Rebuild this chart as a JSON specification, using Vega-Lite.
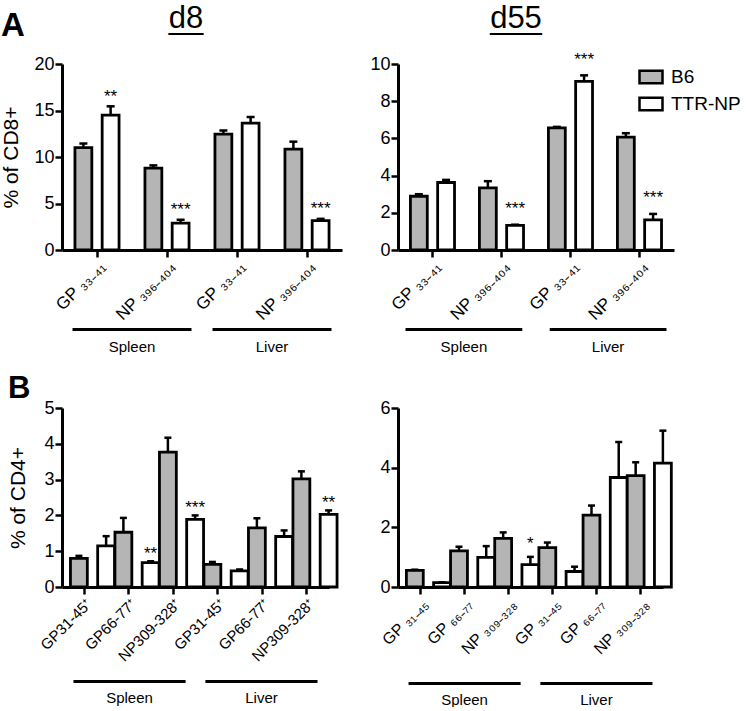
{
  "$schema": "https://vega.github.io/schema/vega-lite/v6.json",
  "padding": {"left": 0, "top": 2, "right": 0, "bottom": 0},
  "background": "white",
  "config": {
    "font": "Liberation Sans",
    "view": {"stroke": null},
    "axis": {"grid": false, "domainColor": "black", "domainWidth": 3, "tickColor": "black", "tickWidth": 2.5, "tickSize": 7, "labelColor": "black", "labelFont": "Liberation Sans", "labelFontSize": 18, "labelPadding": 1, "labelOverlap": false, "titleColor": "black", "titleFont": "Liberation Sans", "titleFontSize": 21, "titleFontWeight": "normal", "titlePadding": 12},
    "title": {"color": "black", "font": "Liberation Sans", "subtitleColor": "black", "subtitleFont": "Liberation Sans"}
  },
  "datasets": {
    "d8": [
      {"key": "Spleen|GP ₃₃₋₄₁", "geno": "B6", "mean": 11.0, "upper": 11.45, "sig": ""},
      {"key": "Spleen|GP ₃₃₋₄₁", "geno": "TTR-NP", "mean": 14.5, "upper": 15.45, "sig": "**"},
      {"key": "Spleen|NP ₃₉₆₋₄₀₄", "geno": "B6", "mean": 8.8, "upper": 9.1, "sig": ""},
      {"key": "Spleen|NP ₃₉₆₋₄₀₄", "geno": "TTR-NP", "mean": 2.9, "upper": 3.25, "sig": "***"},
      {"key": "Liver|GP ₃₃₋₄₁", "geno": "B6", "mean": 12.45, "upper": 12.85, "sig": ""},
      {"key": "Liver|GP ₃₃₋₄₁", "geno": "TTR-NP", "mean": 13.65, "upper": 14.3, "sig": ""},
      {"key": "Liver|NP ₃₉₆₋₄₀₄", "geno": "B6", "mean": 10.85, "upper": 11.65, "sig": ""},
      {"key": "Liver|NP ₃₉₆₋₄₀₄", "geno": "TTR-NP", "mean": 3.15, "upper": 3.35, "sig": "***"}
    ],
    "d55": [
      {"key": "Spleen|GP ₃₃₋₄₁", "geno": "B6", "mean": 2.89, "upper": 3.0, "sig": ""},
      {"key": "Spleen|GP ₃₃₋₄₁", "geno": "TTR-NP", "mean": 3.63, "upper": 3.77, "sig": ""},
      {"key": "Spleen|NP ₃₉₆₋₄₀₄", "geno": "B6", "mean": 3.34, "upper": 3.7, "sig": ""},
      {"key": "Spleen|NP ₃₉₆₋₄₀₄", "geno": "TTR-NP", "mean": 1.32, "upper": 1.36, "sig": "***"},
      {"key": "Liver|GP ₃₃₋₄₁", "geno": "B6", "mean": 6.57, "upper": 6.62, "sig": ""},
      {"key": "Liver|GP ₃₃₋₄₁", "geno": "TTR-NP", "mean": 9.07, "upper": 9.39, "sig": "***"},
      {"key": "Liver|NP ₃₉₆₋₄₀₄", "geno": "B6", "mean": 6.07, "upper": 6.28, "sig": ""},
      {"key": "Liver|NP ₃₉₆₋₄₀₄", "geno": "TTR-NP", "mean": 1.62, "upper": 1.94, "sig": "***"}
    ],
    "cd4d8": [
      {"key": "Spleen|GP31-45⁺", "geno": "B6", "mean": 0.8, "upper": 0.87, "sig": ""},
      {"key": "Spleen|GP31-45⁺", "geno": "TTR-NP", "mean": 1.15, "upper": 1.42, "sig": ""},
      {"key": "Spleen|GP66-77⁺", "geno": "B6", "mean": 1.53, "upper": 1.93, "sig": ""},
      {"key": "Spleen|GP66-77⁺", "geno": "TTR-NP", "mean": 0.68, "upper": 0.72, "sig": "**"},
      {"key": "Spleen|NP309-328⁺", "geno": "B6", "mean": 3.77, "upper": 4.17, "sig": ""},
      {"key": "Spleen|NP309-328⁺", "geno": "TTR-NP", "mean": 1.89, "upper": 2.0, "sig": "***"},
      {"key": "Liver|GP31-45⁺", "geno": "B6", "mean": 0.63, "upper": 0.7, "sig": ""},
      {"key": "Liver|GP31-45⁺", "geno": "TTR-NP", "mean": 0.45, "upper": 0.49, "sig": ""},
      {"key": "Liver|GP66-77⁺", "geno": "B6", "mean": 1.65, "upper": 1.92, "sig": ""},
      {"key": "Liver|GP66-77⁺", "geno": "TTR-NP", "mean": 1.41, "upper": 1.58, "sig": ""},
      {"key": "Liver|NP309-328⁺", "geno": "B6", "mean": 3.02, "upper": 3.23, "sig": ""},
      {"key": "Liver|NP309-328⁺", "geno": "TTR-NP", "mean": 2.03, "upper": 2.14, "sig": "**"}
    ],
    "cd4d55": [
      {"key": "Spleen|GP ₃₁₋₄₅", "geno": "B6", "mean": 0.56, "upper": 0.58, "sig": ""},
      {"key": "Spleen|GP ₃₁₋₄₅", "geno": "TTR-NP", "mean": 0.15, "upper": 0.16, "sig": ""},
      {"key": "Spleen|GP ₆₆₋₇₇", "geno": "B6", "mean": 1.21, "upper": 1.35, "sig": ""},
      {"key": "Spleen|GP ₆₆₋₇₇", "geno": "TTR-NP", "mean": 0.99, "upper": 1.37, "sig": ""},
      {"key": "Spleen|NP ₃₀₉₋₃₂₈", "geno": "B6", "mean": 1.63, "upper": 1.83, "sig": ""},
      {"key": "Spleen|NP ₃₀₉₋₃₂₈", "geno": "TTR-NP", "mean": 0.75, "upper": 1.01, "sig": "*"},
      {"key": "Liver|GP ₃₁₋₄₅", "geno": "B6", "mean": 1.32, "upper": 1.49, "sig": ""},
      {"key": "Liver|GP ₃₁₋₄₅", "geno": "TTR-NP", "mean": 0.52, "upper": 0.68, "sig": ""},
      {"key": "Liver|GP ₆₆₋₇₇", "geno": "B6", "mean": 2.41, "upper": 2.73, "sig": ""},
      {"key": "Liver|GP ₆₆₋₇₇", "geno": "TTR-NP", "mean": 3.67, "upper": 4.86, "sig": ""},
      {"key": "Liver|NP ₃₀₉₋₃₂₈", "geno": "B6", "mean": 3.73, "upper": 4.18, "sig": ""},
      {"key": "Liver|NP ₃₀₉₋₃₂₈", "geno": "TTR-NP", "mean": 4.15, "upper": 5.24, "sig": ""}
    ],
    "tissues": [{"tissue": "Spleen"}, {"tissue": "Liver"}]
  },
  "resolve": {"legend": {"fill": "independent"}},
  "spacing": 19,
  "vconcat": [
    {
      "title": {"text": "A", "anchor": "start", "frame": "bounds", "fontSize": 33, "fontWeight": "bold", "offset": -40},
      "resolve": {"legend": {"fill": "independent"}},
      "spacing": 27,
      "hconcat": [
        {
          "resolve": {"legend": {"fill": "independent"}},
          "spacing": 5,
          "vconcat": [
            {
              "title": {"text": "d8", "subtitle": "__", "fontSize": 31, "subtitleFontSize": 31, "subtitlePadding": -30, "fontWeight": "normal", "dx": -16, "anchor": "middle", "frame": "group", "offset": 19},
              "width": 280, "height": 186,
              "data": {"name": "d8"},
              "encoding": {
                "x": {"field": "key", "type": "nominal", "sort": null, "scale": {"paddingInner": 0.37, "paddingOuter": 0.185}, "axis": {"title": null, "labelAngle": -45, "labelExpr": "split(datum.label, '|')[1]", "labelFontSize": 17, "labelPadding": 1}},
                "xOffset": {"field": "geno", "type": "nominal", "sort": ["B6", "TTR-NP"], "scale": {"paddingInner": 0.38}}
              },
              "layer": [
                {"mark": {"type": "bar", "stroke": "black", "strokeWidth": 2.8}, "encoding": {"y": {"field": "mean", "type": "quantitative", "scale": {"domain": [0, 20], "nice": false}, "axis": {"title": "% of CD8+", "values": [0, 5, 10, 15, 20], "labelOverlap": false}}, "fill": {"field": "geno", "type": "nominal", "scale": {"domain": ["B6", "TTR-NP"], "range": ["#b5b5b5", "#ffffff"]}, "legend": null}}},
                {"mark": {"type": "rule", "strokeWidth": 2.5, "color": "black"}, "encoding": {"y": {"field": "mean", "type": "quantitative", "axis": {"title": "% of CD8+", "values": [0, 5, 10, 15, 20], "labelOverlap": false}}, "y2": {"field": "upper"}}},
                {"mark": {"type": "tick", "size": 8, "thickness": 2.5, "color": "black", "opacity": 1}, "encoding": {"y": {"field": "upper", "type": "quantitative", "axis": {"title": "% of CD8+", "values": [0, 5, 10, 15, 20], "labelOverlap": false}}}},
                {"mark": {"type": "text", "fontSize": 17, "dy": -4.6, "baseline": "alphabetic", "color": "black"}, "encoding": {"y": {"field": "upper", "type": "quantitative", "axis": {"title": "% of CD8+", "values": [0, 5, 10, 15, 20], "labelOverlap": false}}, "text": {"field": "sig"}}}
              ]
            },
            {
              "width": 280, "height": 3,
              "data": {"name": "tissues"},
              "mark": {"type": "bar", "color": "black"},
              "encoding": {"x": {"field": "tissue", "type": "nominal", "sort": null, "scale": {"paddingInner": 0.15, "paddingOuter": 0.075}, "axis": {"title": null, "domain": false, "ticks": false, "labelAngle": 0, "labelFontSize": 15, "labelPadding": 8}}}
            }
          ]
        },
        {
          "resolve": {"legend": {"fill": "independent"}},
          "spacing": 5,
          "vconcat": [
            {
              "title": {"text": "d55", "subtitle": "___", "fontSize": 31, "subtitleFontSize": 31, "subtitlePadding": -30, "fontWeight": "normal", "dx": -20, "anchor": "middle", "frame": "group", "offset": 15},
              "width": 276, "height": 186,
              "data": {"name": "d55"},
              "encoding": {
                "x": {"field": "key", "type": "nominal", "sort": null, "scale": {"paddingInner": 0.36, "paddingOuter": 0.18}, "axis": {"title": null, "labelAngle": -45, "labelExpr": "split(datum.label, '|')[1]", "labelFontSize": 17, "labelPadding": 1}},
                "xOffset": {"field": "geno", "type": "nominal", "sort": ["B6", "TTR-NP"], "scale": {"paddingInner": 0.36}}
              },
              "layer": [
                {"mark": {"type": "bar", "stroke": "black", "strokeWidth": 2.8}, "encoding": {"y": {"field": "mean", "type": "quantitative", "scale": {"domain": [0, 10], "nice": false}, "axis": {"title": null, "values": [0, 2, 4, 6, 8, 10], "labelOverlap": false}}, "fill": {"field": "geno", "type": "nominal", "scale": {"domain": ["B6", "TTR-NP"], "range": ["#b5b5b5", "#ffffff"]}, "legend": {"title": null, "orient": "right", "offset": -36, "padding": 0, "symbolType": "M-1,-0.55H1V0.55H-1Z", "symbolSize": 529, "symbolStrokeColor": "black", "symbolStrokeWidth": 2.5, "labelFontSize": 19, "labelColor": "black", "labelOffset": 7, "rowPadding": 2}}}},
                {"mark": {"type": "rule", "strokeWidth": 2.5, "color": "black"}, "encoding": {"y": {"field": "mean", "type": "quantitative", "axis": {"title": null, "values": [0, 2, 4, 6, 8, 10], "labelOverlap": false}}, "y2": {"field": "upper"}}},
                {"mark": {"type": "tick", "size": 8, "thickness": 2.5, "color": "black", "opacity": 1}, "encoding": {"y": {"field": "upper", "type": "quantitative", "axis": {"title": null, "values": [0, 2, 4, 6, 8, 10], "labelOverlap": false}}}},
                {"mark": {"type": "text", "fontSize": 17, "dy": -10.6, "baseline": "alphabetic", "color": "black"}, "encoding": {"y": {"field": "upper", "type": "quantitative", "axis": {"title": null, "values": [0, 2, 4, 6, 8, 10], "labelOverlap": false}}, "text": {"field": "sig"}}}
              ]
            },
            {
              "width": 276, "height": 3,
              "data": {"name": "tissues"},
              "mark": {"type": "bar", "color": "black"},
              "encoding": {"x": {"field": "tissue", "type": "nominal", "sort": null, "scale": {"paddingInner": 0.19, "paddingOuter": 0.052}, "axis": {"title": null, "domain": false, "ticks": false, "labelAngle": 0, "labelFontSize": 15, "labelPadding": 8}}}
            }
          ]
        }
      ]
    },
    {
      "title": {"text": "B", "anchor": "start", "frame": "bounds", "fontSize": 31, "fontWeight": "bold", "offset": -6},
      "resolve": {"legend": {"fill": "independent"}},
      "spacing": 39,
      "hconcat": [
        {
          "resolve": {"legend": {"fill": "independent"}},
          "spacing": 16,
          "vconcat": [
            {
              "width": 267, "height": 179,
              "data": {"name": "cd4d8"},
              "encoding": {
                "x": {"field": "key", "type": "nominal", "sort": null, "scale": {"paddingInner": 0.38, "paddingOuter": 0.19}, "axis": {"title": null, "labelAngle": -45, "labelExpr": "split(datum.label, '|')[1]", "labelFontSize": 15, "labelPadding": 2}},
                "xOffset": {"field": "geno", "type": "nominal", "sort": ["B6", "TTR-NP"], "scale": {"paddingInner": 0.38}}
              },
              "layer": [
                {"mark": {"type": "bar", "stroke": "black", "strokeWidth": 2.8}, "encoding": {"y": {"field": "mean", "type": "quantitative", "scale": {"domain": [0, 5], "nice": false}, "axis": {"title": "% of CD4+", "titlePadding": 15, "values": [0, 1, 2, 3, 4, 5], "labelOverlap": false}}, "fill": {"field": "geno", "type": "nominal", "scale": {"domain": ["B6", "TTR-NP"], "range": ["#b5b5b5", "#ffffff"]}, "legend": null}}},
                {"mark": {"type": "rule", "strokeWidth": 2.5, "color": "black"}, "encoding": {"y": {"field": "mean", "type": "quantitative", "axis": {"title": "% of CD4+", "titlePadding": 15, "values": [0, 1, 2, 3, 4, 5], "labelOverlap": false}}, "y2": {"field": "upper"}}},
                {"mark": {"type": "tick", "size": 7, "thickness": 2.5, "color": "black", "opacity": 1}, "encoding": {"y": {"field": "upper", "type": "quantitative", "axis": {"title": "% of CD4+", "titlePadding": 15, "values": [0, 1, 2, 3, 4, 5], "labelOverlap": false}}}},
                {"mark": {"type": "text", "fontSize": 17, "dy": -2.6, "baseline": "alphabetic", "color": "black"}, "encoding": {"y": {"field": "upper", "type": "quantitative", "axis": {"title": "% of CD4+", "titlePadding": 15, "values": [0, 1, 2, 3, 4, 5], "labelOverlap": false}}, "text": {"field": "sig"}}}
              ]
            },
            {
              "width": 267, "height": 3,
              "data": {"name": "tissues"},
              "mark": {"type": "bar", "color": "black"},
              "encoding": {"x": {"field": "tissue", "type": "nominal", "sort": null, "scale": {"paddingInner": 0.15, "paddingOuter": 0.087}, "axis": {"title": null, "domain": false, "ticks": false, "labelAngle": 0, "labelFontSize": 15, "labelPadding": 7}}}
            }
          ]
        },
        {
          "resolve": {"legend": {"fill": "independent"}},
          "spacing": 24,
          "vconcat": [
            {
              "width": 265, "height": 179,
              "data": {"name": "cd4d55"},
              "encoding": {
                "x": {"field": "key", "type": "nominal", "sort": null, "scale": {"paddingInner": 0.38, "paddingOuter": 0.19}, "axis": {"title": null, "labelAngle": -45, "labelExpr": "split(datum.label, '|')[1]", "labelFontSize": 16, "labelPadding": 2}},
                "xOffset": {"field": "geno", "type": "nominal", "sort": ["B6", "TTR-NP"], "scale": {"paddingInner": 0.38}}
              },
              "layer": [
                {"mark": {"type": "bar", "stroke": "black", "strokeWidth": 2.8}, "encoding": {"y": {"field": "mean", "type": "quantitative", "scale": {"domain": [0, 6], "nice": false}, "axis": {"title": null, "values": [0, 2, 4, 6], "labelOverlap": false}}, "fill": {"field": "geno", "type": "nominal", "scale": {"domain": ["B6", "TTR-NP"], "range": ["#b5b5b5", "#ffffff"]}, "legend": null}}},
                {"mark": {"type": "rule", "strokeWidth": 2.5, "color": "black"}, "encoding": {"y": {"field": "mean", "type": "quantitative", "axis": {"title": null, "values": [0, 2, 4, 6], "labelOverlap": false}}, "y2": {"field": "upper"}}},
                {"mark": {"type": "tick", "size": 7, "thickness": 2.5, "color": "black", "opacity": 1}, "encoding": {"y": {"field": "upper", "type": "quantitative", "axis": {"title": null, "values": [0, 2, 4, 6], "labelOverlap": false}}}},
                {"mark": {"type": "text", "fontSize": 17, "dy": -7.6, "baseline": "alphabetic", "color": "black"}, "encoding": {"y": {"field": "upper", "type": "quantitative", "axis": {"title": null, "values": [0, 2, 4, 6], "labelOverlap": false}}, "text": {"field": "sig"}}}
              ]
            },
            {
              "width": 265, "height": 3,
              "data": {"name": "tissues"},
              "mark": {"type": "bar", "color": "black"},
              "encoding": {"x": {"field": "tissue", "type": "nominal", "sort": null, "scale": {"paddingInner": 0.15, "paddingOuter": 0.08}, "axis": {"title": null, "domain": false, "ticks": false, "labelAngle": 0, "labelFontSize": 15, "labelPadding": 7}}}
            }
          ]
        }
      ]
    }
  ]
}
